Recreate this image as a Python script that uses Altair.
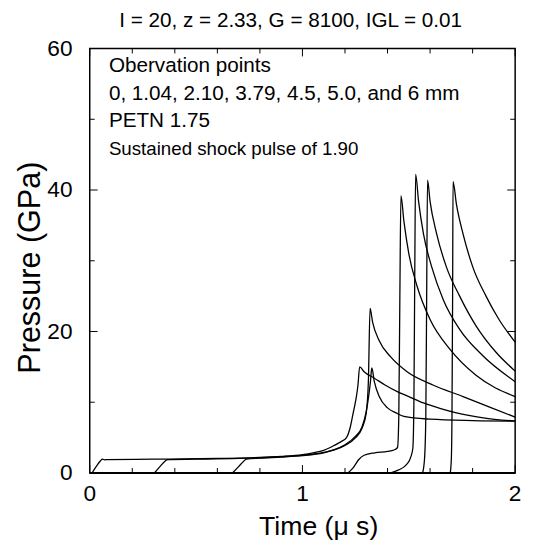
import altair as alt
import pandas as pd

# ---------------- data ----------------
TITLE = "I = 20, z = 2.33, G = 8100,  IGL = 0.01"
X_TITLE = "Time (\u03bc s)"
Y_TITLE = "Pressure (GPa)"

OBS = ["0 mm", "1.04 mm", "2.10 mm", "3.79 mm", "4.5 mm", "5.0 mm", "6 mm"]

T_0 = [0.011, 0.03, 0.05, 0.06, 0.07, 0.08, 0.3, 0.6, 0.8, 0.9, 1.0, 1.05, 1.1, 1.15, 1.18, 1.207,
       1.225, 1.238, 1.252, 1.261, 1.269, 1.29, 1.338, 1.39, 1.446, 1.5, 1.569, 1.65, 1.724, 1.85, 2.0]
P_0 = [0.0, 0.9, 1.7, 1.95, 1.85, 1.9, 1.95, 2.05, 2.2, 2.35, 2.6, 2.85, 3.2, 3.9, 4.4, 5.0,
       6.5, 8.4, 10.5, 12.4, 15.0, 14.3, 13.4, 12.4, 11.5, 10.8, 9.9, 9.1, 8.5, 7.8, 7.33]

T_1 = [0.304, 0.33, 0.355, 0.366, 0.5, 0.7, 0.8, 0.9, 1.0, 1.1, 1.15, 1.2, 1.25, 1.28, 1.30, 1.312,
       1.32, 1.326, 1.338, 1.361, 1.4, 1.44, 1.477, 1.6, 1.8, 2.0]
P_1 = [0.0, 0.9, 1.7, 1.9, 1.95, 2.05, 2.15, 2.3, 2.5, 2.9, 3.3, 4.0, 5.2, 6.5, 8.7, 11.0,
       13.0, 14.85, 12.9, 10.8, 9.2, 8.5, 8.0, 7.6, 7.4, 7.33]

T_2 = [0.671, 0.70, 0.725, 0.736, 0.8, 0.9, 1.0, 1.1, 1.15, 1.2, 1.25, 1.28, 1.30, 1.31, 1.318,
       1.33, 1.361, 1.415, 1.492, 1.616, 1.755, 1.88, 2.0]
P_2 = [0.0, 0.9, 1.7, 1.95, 2.1, 2.25, 2.45, 2.85, 3.25, 3.9, 5.0, 6.3, 8.5, 13.0, 23.25,
       21.3, 18.7, 16.4, 14.3, 12.4, 10.8, 9.3, 7.9]

T_3 = [1.214, 1.24, 1.265, 1.29, 1.34, 1.40, 1.43, 1.447, 1.453, 1.458, 1.463, 1.477, 1.5, 1.539,
       1.6, 1.693, 1.816, 2.0]
P_3 = [0.0, 0.8, 1.9, 2.5, 2.85, 3.05, 3.25, 3.6, 8.0, 25.0, 39.2, 35.6, 31.0, 26.4,
       21.7, 17.5, 13.8, 10.8]

T_4 = [1.415, 1.45, 1.49, 1.51, 1.519, 1.524, 1.528, 1.532, 1.546, 1.569, 1.608, 1.662, 1.739,
       1.847, 2.0]
P_4 = [0.0, 0.4, 1.2, 2.3, 3.5, 10.0, 28.0, 42.2, 38.4, 33.8, 29.1, 24.5, 20.3, 16.6, 12.9]

T_5 = [1.565, 1.574, 1.58, 1.584, 1.588, 1.600, 1.631, 1.677, 1.739, 1.816, 1.909, 2.0]
P_5 = [0.0, 2.0, 8.0, 25.0, 41.4, 38.4, 33.8, 29.1, 25.0, 20.8, 17.1, 14.4]

T_6 = [1.695, 1.700, 1.703, 1.706, 1.708, 1.724, 1.755, 1.801, 1.863, 1.924, 2.0]
P_6 = [0.0, 2.0, 8.0, 25.0, 41.2, 37.96, 33.8, 29.1, 25.0, 21.7, 18.5]

ANNOT_TEXT = ["Obervation points", "0, 1.04, 2.10, 3.79, 4.5, 5.0, and 6 mm",
              "PETN 1.75", "Sustained shock pulse of 1.90"]
ANNOT_T = [0.09, 0.09, 0.09, 0.09]
ANNOT_P = [57.5, 53.5, 49.7, 45.8]
ANNOT_SIZE = [21, 21, 21, 19]

X_MAJOR = [0, 1, 2]
X_LABELS = ["0", "1", "2"]
X_MINOR = [0.2, 0.4, 0.6, 0.8, 1.2, 1.4, 1.6, 1.8]
Y_MAJOR = [0, 20, 40, 60]
Y_MINOR = [10, 30, 50]

# ---------------- build tables ----------------
curves = [(OBS[0], T_0, P_0), (OBS[1], T_1, P_1), (OBS[2], T_2, P_2), (OBS[3], T_3, P_3),
          (OBS[4], T_4, P_4), (OBS[5], T_5, P_5), (OBS[6], T_6, P_6)]
rows = []
for name, ts, ps in curves:
    for i, (t, p) in enumerate(zip(ts, ps)):
        rows.append({"obs": name, "i": i, "t": t, "p": p})
df = pd.DataFrame(rows)

ann = pd.DataFrame({"label": ANNOT_TEXT, "t": ANNOT_T, "p": ANNOT_P, "fs": ANNOT_SIZE})
xlab = pd.DataFrame({"t": X_MAJOR, "lab": X_LABELS})

W, H = 432, 431
FONT = "Liberation Sans"
MAJ, MIN = 8, 5

xs = alt.Scale(domain=[0, 2], nice=False, zero=False)
ys = alt.Scale(domain=[0, 60], nice=False)

X_AXIS = alt.Axis(
    title=X_TITLE, values=X_MAJOR, labels=False, ticks=False, tickSize=0, domain=False, grid=False,
    titleFont=FONT, titleFontSize=27, titleFontWeight="normal", titleColor="black",
    titleX=232, titleY=62, titleAlign="center", titleBaseline="alphabetic")
Y_AXIS = alt.Axis(
    title=Y_TITLE, values=Y_MAJOR, ticks=False, tickSize=0, domain=False, grid=False,
    labelFontSize=23, labelFont=FONT, labelColor="black", labelPadding=18,
    labelFlush=False, labelOverlap=False, labelBound=False,
    titleFont=FONT, titleFontSize=31, titleFontWeight="normal", titleColor="black",
    titleX=-60, titleY=222, titleAlign="center", titleBaseline="middle", titleAngle=270)

XE = alt.X("t:Q", scale=xs, axis=X_AXIS)
YE = alt.Y("p:Q", scale=ys, axis=Y_AXIS)

lines = alt.Chart(df).mark_line(color="black", strokeWidth=1.3, interpolate="monotone").encode(
    x=XE, y=YE, detail="obs:N", order="i:Q",
)

def xticks(vals, length, top):
    d = pd.DataFrame({"t": vals})
    if top:
        enc = dict(y=alt.value(0), y2=alt.value(length))
    else:
        enc = dict(y=alt.value(H), y2=alt.value(H - length))
    return alt.Chart(d).mark_rule(color="black", strokeWidth=1).encode(x=XE, **enc)

def yticks(vals, length, right):
    d = pd.DataFrame({"p": vals})
    if right:
        enc = dict(x=alt.value(W), x2=alt.value(W - length))
    else:
        enc = dict(x=alt.value(0), x2=alt.value(length))
    return alt.Chart(d).mark_rule(color="black", strokeWidth=1).encode(y=YE, **enc)

tick_layers = [
    xticks(X_MAJOR, MAJ, False), xticks(X_MINOR, MIN, False),
    xticks(X_MAJOR, MAJ, True), xticks(X_MINOR, MIN, True),
    yticks(Y_MAJOR, MAJ, False), yticks(Y_MINOR, MIN, False),
    yticks(Y_MAJOR, MAJ, True), yticks(Y_MINOR, MIN, True),
]

# heavier bottom axis line, as in the reference
base_line = alt.Chart(pd.DataFrame({"p": [Y_MAJOR[0]]})).mark_rule(
    color="black", strokeWidth=2.2).encode(y=YE, x=alt.value(0), x2=alt.value(W))

texts = alt.Chart(ann).mark_text(align="left", baseline="middle", font=FONT, color="black").encode(
    x=XE, y=YE,
    text="label:N",
    size=alt.Size("fs:Q", scale=None, legend=None),
)

xlabels = alt.Chart(xlab).mark_text(align="center", baseline="top", font=FONT, fontSize=23,
                                     color="black").encode(
    x=XE, y=alt.value(H + 10), text="lab:N",
)

chart = alt.layer(lines, texts, xlabels, base_line, *tick_layers).properties(
    width=W, height=H,
    autosize=alt.AutoSizeParams(type="none"),
    padding={"left": 83, "top": 37, "right": 10, "bottom": 70},
    title=alt.TitleParams(text=TITLE, font=FONT, fontSize=21, fontWeight="normal", color="black",
                          anchor="middle", frame="group", offset=7, dx=-12),
).configure(background="white").configure_view(stroke="black", strokeWidth=1.5)

chart.save("out.html", embed_options={"renderer": "svg", "actions": False})
